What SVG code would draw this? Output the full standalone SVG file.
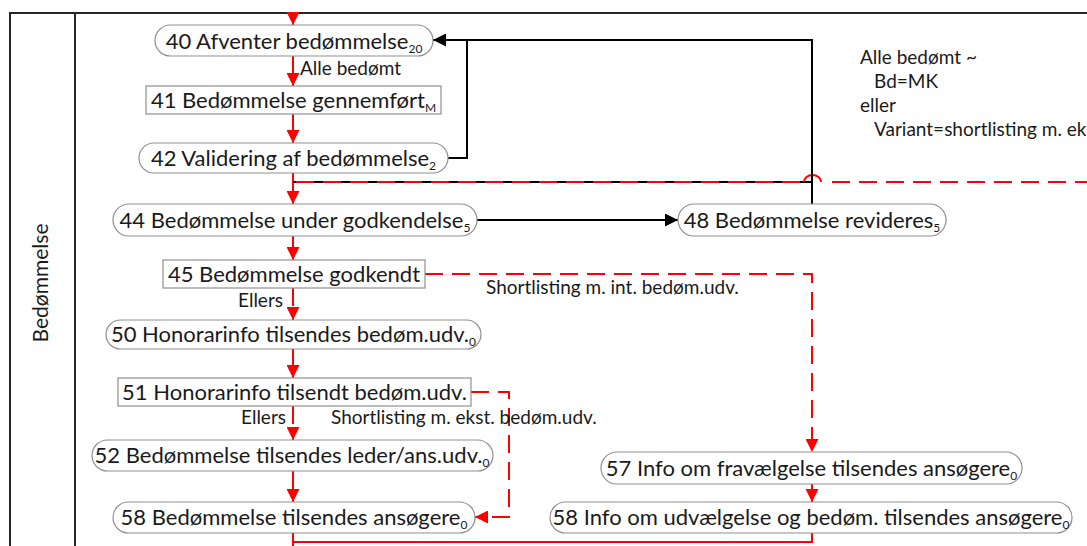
<svg xmlns="http://www.w3.org/2000/svg" width="1087" height="546" viewBox="0 0 1087 546">
<defs>
<style>
.frame{stroke:#262626;stroke-width:2;fill:none}
.node{fill:#fff;stroke:#8f8f8f;stroke-width:1.2}
.nt{font-family:Lato,"Liberation Sans",sans-serif;font-size:22px;fill:#1a1a1a;text-anchor:middle}
.sub{font-size:12px}
.lbl{font-family:Lato,"Liberation Sans",sans-serif;font-size:19px;fill:#1a1a1a}
.red{stroke:#ff0000;stroke-width:2;fill:none}
.dash{stroke-dasharray:18 9}
.blk{stroke:#000;stroke-width:2;fill:none}
</style>
<marker id="arR" viewBox="0 0 10 10" refX="10" refY="5" markerWidth="13" markerHeight="13" markerUnits="userSpaceOnUse" orient="auto">
<path d="M0,0 L10,5 L0,10 Z" fill="#ff0000"/>
</marker>
<marker id="arK" viewBox="0 0 10 10" refX="10" refY="5" markerWidth="13" markerHeight="13" markerUnits="userSpaceOnUse" orient="auto">
<path d="M0,0 L10,5 L0,10 Z" fill="#000"/>
</marker>
</defs>
<rect width="1087" height="546" fill="#fff"/>
<g id="lane">
<path class="frame" d="M10,546 V13 H1087 M75,13 V546"/>
<text class="nt" transform="translate(48,283) rotate(-90)" style="font-size:21px">Bedømmelse</text>
</g>
<g id="connectors">
<path class="red" d="M293,13 V25" marker-end="url(#arR)"/>
<path class="red" d="M293,56 V86" marker-end="url(#arR)"/>
<path class="red dash" d="M293,114 V143" marker-end="url(#arR)"/>
<path class="red" d="M293,173 V204" marker-end="url(#arR)"/>
<path class="blk" d="M293,182 H812"/>
<path class="red dash" d="M296,182 H804"/>
<path class="red" d="M804,182 A8.5 7 0 0 1 821,182"/>
<path class="red dash" d="M832,182 H1087"/>
<path class="blk" d="M812,204 V40 H433" marker-end="url(#arK)"/>
<path class="blk" d="M448,158 H467 V40"/>
<path class="blk" d="M477,220 H678" marker-end="url(#arK)"/>
<path class="red" d="M293,236 V260" marker-end="url(#arR)"/>
<path class="red dash" d="M425,274 H812 V452" marker-end="url(#arR)"/>
<path class="red dash" d="M293,288 V320" marker-end="url(#arR)"/>
<path class="red" d="M293,349 V378" marker-end="url(#arR)"/>
<path class="red dash" d="M293,406 V440" marker-end="url(#arR)"/>
<path class="red dash" d="M471,392 H509 V517 H475" marker-end="url(#arR)"/>
<path class="red" d="M293,471 V502" marker-end="url(#arR)"/>
<path class="red" d="M812,484 V502" marker-end="url(#arR)"/>
<path class="red" d="M812,533 V542 H293 M293,533 V546"/>
<text class="lbl" x="300" y="75">Alle bedømt</text>
<text class="lbl" x="283" y="307" text-anchor="end">Ellers</text>
<text class="lbl" x="486" y="294">Shortlisting m. int. bedøm.udv.</text>
<text class="lbl" x="286" y="424" text-anchor="end">Ellers</text>
<text class="lbl" x="331" y="424">Shortlisting m. ekst. bedøm.udv.</text>
</g>
<g id="note">
<text class="lbl" x="860" y="64">Alle bedømt ~</text>
<text class="lbl" x="874" y="88">Bd=MK</text>
<text class="lbl" x="860" y="112">eller</text>
<text class="lbl" x="874" y="136">Variant=shortlisting m. ek</text>
</g>
<g id="n40"><rect class="node" x="155" y="25" width="278" height="31" rx="15.5"/><text class="nt" x="294" y="48.5">40 Afventer bedømmelse<tspan class="sub" dy="4">20</tspan></text></g>
<g id="n41"><rect class="node" x="146" y="86" width="295" height="28"/><text class="nt" x="293.5" y="107.5">41 Bedømmelse gennemført<tspan class="sub" dy="4">M</tspan></text></g>
<g id="n42"><rect class="node" x="139" y="143" width="309" height="30" rx="15"/><text class="nt" x="293.5" y="165.5">42 Validering af bedømmelse<tspan class="sub" dy="4">2</tspan></text></g>
<g id="n44"><rect class="node" x="113" y="204" width="364" height="32" rx="16"/><text class="nt" x="295" y="227.5">44 Bedømmelse under godkendelse<tspan class="sub" dy="4">5</tspan></text></g>
<g id="n48"><rect class="node" x="678" y="204" width="268" height="32" rx="16"/><text class="nt" x="812" y="227.5">48 Bedømmelse revideres<tspan class="sub" dy="4">5</tspan></text></g>
<g id="n45"><rect class="node" x="163" y="260" width="262" height="28"/><text class="nt" x="294" y="281.5">45 Bedømmelse godkendt</text></g>
<g id="n50"><rect class="node" x="106" y="320" width="375" height="29" rx="14.5"/><text class="nt" x="293.5" y="342">50 Honorarinfo tilsendes bedøm.udv.<tspan class="sub" dy="4">0</tspan></text></g>
<g id="n51"><rect class="node" x="118" y="378" width="353" height="28"/><text class="nt" x="294.5" y="399.5">51 Honorarinfo tilsendt bedøm.udv.</text></g>
<g id="n52"><rect class="node" x="92" y="440" width="401" height="31" rx="15.5"/><text class="nt" x="292" y="463">52 Bedømmelse tilsendes leder/ans.udv.<tspan class="sub" dy="4">0</tspan></text></g>
<g id="n58a"><rect class="node" x="113" y="502" width="362" height="31" rx="15.5"/><text class="nt" x="294" y="525">58 Bedømmelse tilsendes ansøgere<tspan class="sub" dy="4">0</tspan></text></g>
<g id="n57"><rect class="node" x="601" y="452" width="421" height="32" rx="16"/><text class="nt" x="811.5" y="475.5">57 Info om fravælgelse tilsendes ansøgere<tspan class="sub" dy="4">0</tspan></text></g>
<g id="n58b"><rect class="node" x="550" y="502" width="522" height="31" rx="15.5"/><text class="nt" x="811" y="525">58 Info om udvælgelse og bedøm. tilsendes ansøgere<tspan class="sub" dy="4">0</tspan></text></g>
</svg>
